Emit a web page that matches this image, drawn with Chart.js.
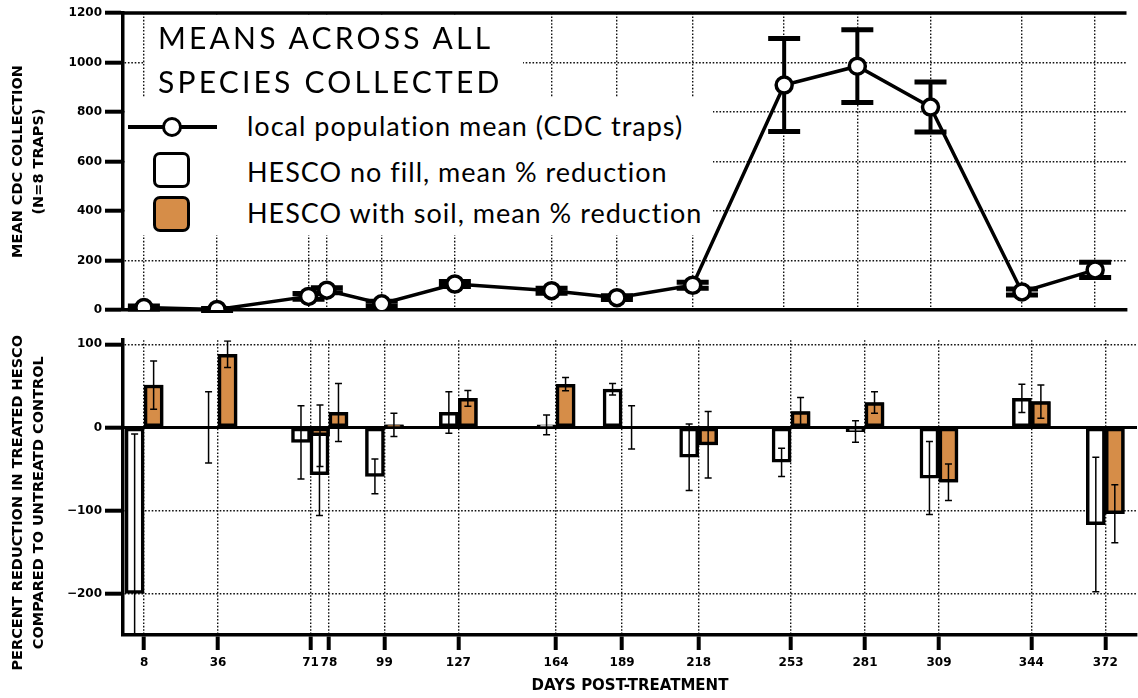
<!DOCTYPE html>
<html>
<head>
<meta charset="utf-8">
<script src="https://cdn.jsdelivr.net/npm/chart.js@4.4.1/dist/chart.umd.min.js"></script>
<style>
  html, body { margin: 0; padding: 0; background: #fff; }
  #wrap { position: relative; width: 1138px; height: 698px; overflow: hidden; font-family: Lato, sans-serif; color: #000; }
  canvas { position: absolute; left: 0; }
  #topChart { top: 0; }
  #bottomChart { top: 330px; }
  .box { position: absolute; background: #fff; }
  .title { position: absolute; left: 158px; top: 15px; font-size: 30px; line-height: 44px; letter-spacing: 3.2px; white-space: nowrap; }
  .lbl { position: absolute; left: 247px; font-size: 27px; line-height: 27px; letter-spacing: 1px; white-space: nowrap; }
  .symLine { position: absolute; left: 128px; top: 125px; width: 89px; height: 4px; background: #000; }
  .symDot { position: absolute; left: 162px; top: 117px; width: 20px; height: 20px; box-sizing: border-box; border: 3.5px solid #000; border-radius: 50%; background: #fff; }
  .symSq { position: absolute; left: 153px; width: 37px; height: 36px; box-sizing: border-box; border: 3.5px solid #000; border-radius: 7px; }
</style>
</head>
<body>
<div id="wrap">
  <canvas id="topChart" width="1138" height="330"></canvas>
  <canvas id="bottomChart" width="1138" height="368"></canvas>
  <div class="box" style="left:145px;top:16px;width:378px;height:81px"></div>
  <div class="box" style="left:125px;top:97px;width:588px;height:138px"></div>
  <div class="title" id="title"></div>
  <div class="symLine"></div>
  <div class="symDot"></div>
  <div class="symSq" style="top:152px;background:#fff"></div>
  <div class="symSq" id="soilSq" style="top:196px"></div>
  <div class="lbl" id="lbl0" style="top:112px"></div>
  <div class="lbl" id="lbl1" style="top:158px"></div>
  <div class="lbl" id="lbl2" style="top:199px"></div>
</div>
<script>
// sampling days (x axis)
const days = [8, 36, 71, 78, 99, 127, 164, 189, 218, 253, 281, 309, 344, 372];
const dayLabels = ['8', '36', '71', '78', '99', '127', '164', '189', '218', '253', '281', '309', '344', '372'];

// top panel: mean CDC collection and error
const popMean = [10, 2, 55, 80, 25, 105, 78, 50, 100, 909, 985, 820, 73, 162];
const popErr = [6, 4, 12, 10, 10, 10, 10, 8, 12, 188, 147, 101, 12, 31];

// bottom panel: % reduction, HESCO no fill / with soil
const noFill = [-200, 0, -18, -57, -59, 18, 3, 46, -36, -42, -5, -61, 35, -117];
const noFillErr = [192, 43, 44, 49, 21, 25, 12, 7, 40, 17, 13, 44, 17, 81];
const soil = [51, 88, -10, 18, 3, 35, 52, 0, -21, 19, 30, -66, 31, -104];
const soilErr = [29, 16, 37, 35, 14, 9.5, 8, 26, 40, 17, 13, 22, 20, 35];

const popTicks = [0, 200, 400, 600, 800, 1000, 1200];
const pctTicks = [-200, -100, 0, 100];

const titleLines = ['MEANS ACROSS ALL', 'SPECIES COLLECTED'];
const seriesNames = ['local population mean (CDC traps)', 'HESCO no fill, mean % reduction', 'HESCO with soil, mean % reduction'];

const ORANGE = '#D68D48';
const GRID = '#111';
const AXIS_FONT = '"DejaVu Sans", sans-serif';

document.getElementById('title').innerHTML = titleLines.join('<br>');
seriesNames.forEach((s, i) => { document.getElementById('lbl' + i).textContent = s; });
document.getElementById('soilSq').style.background = ORANGE;

function setTicks(values) {
  return s => { s.ticks = values.map(v => ({ value: v })); };
}

function seg(ctx, x1, y1, x2, y2) {
  ctx.beginPath();
  ctx.moveTo(x1, y1);
  ctx.lineTo(x2, y2);
  ctx.stroke();
}

const gridOpts = { color: GRID, lineWidth: 1.4, tickLength: 18, tickWidth: 4, tickColor: '#000', tickBorderDash: [] };
const borderOpts = { color: '#000', width: 3.5, dash: [1.6, 1.8] };
const tickFont = { family: AXIS_FONT, size: 12, weight: 'bold' };
const axisTitleFont = { family: AXIS_FONT, size: 14.5, weight: 'bold', lineHeight: 1.45 };

// error bars + top frame line for the population panel
const popBars = {
  id: 'popBars',
  beforeDatasetsDraw(chart) {
    const { ctx, chartArea: a, scales: { x, y } } = chart;
    ctx.save();
    ctx.strokeStyle = '#000';
    ctx.lineWidth = 3.5;
    seg(ctx, a.left, y.getPixelForValue(1200), a.right, y.getPixelForValue(1200));
    days.forEach((d, i) => {
      const px = x.getPixelForValue(d);
      const hi = y.getPixelForValue(popMean[i] + popErr[i]);
      const lo = y.getPixelForValue(popMean[i] - popErr[i]);
      ctx.lineWidth = 4;
      seg(ctx, px, hi, px, lo);
      ctx.lineWidth = 5;
      seg(ctx, px - 16, hi, px + 16, hi);
      seg(ctx, px - 16, lo, px + 16, lo);
    });
    ctx.restore();
  }
};

// zero line, soil bars on top, and thin error bars for the reduction panel
const pctBars = {
  id: 'pctBars',
  beforeDatasetsDraw(chart) {
    const { ctx, chartArea: a, scales: { y } } = chart;
    ctx.save();
    ctx.strokeStyle = '#000';
    ctx.lineWidth = 3;
    seg(ctx, a.left, y.getPixelForValue(0), a.right, y.getPixelForValue(0));
    ctx.restore();
  },
  afterDatasetsDraw(chart) {
    const { ctx, chartArea: a, scales: { y } } = chart;
    ctx.save();
    ctx.beginPath();
    ctx.rect(a.left, a.top, a.right - a.left, a.bottom - a.top);
    ctx.clip();
    chart.getDatasetMeta(1).controller.draw();
    ctx.strokeStyle = '#000';
    ctx.lineWidth = 1.5;
    [[noFill, noFillErr], [soil, soilErr]].forEach(([vals, errs], k) => {
      const meta = chart.getDatasetMeta(k);
      vals.forEach((v, i) => {
        const px = meta.data[i].x;
        const hi = y.getPixelForValue(v + errs[i]);
        const lo = y.getPixelForValue(v - errs[i]);
        seg(ctx, px, hi, px, lo);
        seg(ctx, px - 3.5, hi, px + 3.5, hi);
        seg(ctx, px - 3.5, lo, px + 3.5, lo);
      });
    });
    ctx.restore();
  }
};

new Chart(document.getElementById('topChart'), {
  type: 'line',
  data: {
    datasets: [{
      label: seriesNames[0],
      data: days.map((d, i) => ({ x: d, y: popMean[i] })),
      borderColor: '#000',
      borderWidth: 3.5,
      pointRadius: 8,
      pointHoverRadius: 8,
      pointBackgroundColor: '#fff',
      pointBorderColor: '#000',
      pointBorderWidth: 3.5,
      tension: 0
    }]
  },
  options: {
    responsive: false,
    animation: false,
    layout: { padding: { left: 0, right: 1, top: 13, bottom: 20 } },
    plugins: { legend: { display: false }, tooltip: { enabled: false } },
    scales: {
      x: {
        type: 'linear', min: 0, max: 384,
        afterBuildTicks: setTicks(days),
        ticks: { display: false },
        grid: { ...gridOpts, drawTicks: false },
        border: borderOpts,
        afterFit: s => { s.height = 0; }
      },
      y: {
        min: 0, max: 1200,
        afterBuildTicks: setTicks(popTicks),
        ticks: { color: '#000', font: tickFont, padding: 3, callback: v => String(v) },
        grid: gridOpts,
        border: borderOpts,
        title: { display: true, text: ['MEAN CDC COLLECTION', '(N=8 TRAPS)'], color: '#000', font: axisTitleFont, padding: { top: 8, bottom: 0 } },
        afterFit: s => { s.width = 123; }
      }
    }
  },
  plugins: [popBars]
});

new Chart(document.getElementById('bottomChart'), {
  type: 'bar',
  data: {
    datasets: [
      {
        label: seriesNames[1],
        data: days.map((d, i) => ({ x: d, y: noFill[i] })),
        backgroundColor: '#fff',
        borderColor: '#000',
        borderWidth: 3.5,
        borderSkipped: false,
        barThickness: 19
      },
      {
        label: seriesNames[2],
        data: days.map((d, i) => ({ x: d, y: soil[i] })),
        backgroundColor: ORANGE,
        borderColor: '#000',
        borderWidth: 3.5,
        borderSkipped: false,
        barThickness: 19
      }
    ]
  },
  options: {
    responsive: false,
    animation: false,
    layout: { padding: { left: 0, right: 1, top: 8, bottom: 0 } },
    plugins: { legend: { display: false }, tooltip: { enabled: false } },
    scales: {
      x: {
        type: 'linear', min: 0, max: 384,
        offset: false,
        afterBuildTicks: setTicks(days),
        ticks: {
          autoSkip: false, maxRotation: 0, color: '#000', font: tickFont, padding: 6,
          callback: v => dayLabels[days.indexOf(v)]
        },
        grid: { ...gridOpts, offset: false, tickLength: 15 },
        border: borderOpts,
        title: { display: true, text: 'DAYS POST-TREATMENT', color: '#000', font: { family: AXIS_FONT, size: 15, weight: 'bold' }, padding: { top: 0, bottom: 3 } },
        afterFit: s => { s.height = 63; }
      },
      y: {
        min: -250, max: 105,
        afterBuildTicks: setTicks(pctTicks),
        ticks: { color: '#000', font: tickFont, padding: 3, callback: v => (v < 0 ? '\u2212' + Math.abs(v) : String(v)) },
        grid: gridOpts,
        border: borderOpts,
        title: { display: true, text: ['PERCENT REDUCTION IN TREATED HESCO      ', 'COMPARED TO UNTREATD CONTROL      '], color: '#000', font: axisTitleFont, padding: { top: 8, bottom: 0 } },
        afterFit: s => { s.width = 123; }
      }
    }
  },
  plugins: [pctBars]
});
</script>
</body>
</html>
